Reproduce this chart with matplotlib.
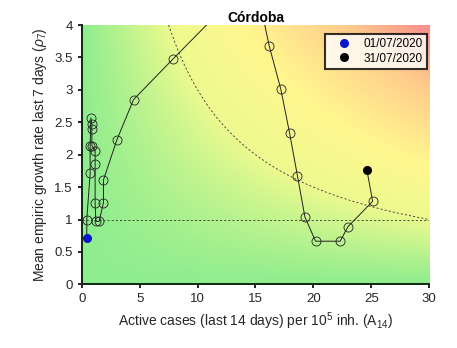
import numpy as np
import matplotlib
matplotlib.use("Agg")
import matplotlib.pyplot as plt
from matplotlib.colors import LinearSegmentedColormap

plt.rcParams['font.family'] = ['Liberation Sans', 'DejaVu Sans']
plt.rcParams['mathtext.fontset'] = 'custom'
plt.rcParams['mathtext.rm'] = 'Liberation Sans'
plt.rcParams['mathtext.it'] = 'Liberation Sans:italic'

# Data: daily trajectory for July 2020 (A14, rho7)
a14 = [0.43, 0.43, 0.72, 0.72, 0.78, 0.87, 0.87, 0.87, 1.15, 1.15, 1.15, 1.21, 1.50,
       1.87, 1.87, 3.03, 4.47, 7.84, 11.6, 13.8, 15.5, 16.2, 17.19, 17.94, 18.63,
       19.27, 20.19, 22.32, 22.99, 25.12, 24.63]
rho7 = [0.716, 1.00, 1.71, 2.14, 2.57, 2.47, 2.40, 2.14, 2.06, 1.86, 1.26, 0.97, 0.97,
        1.26, 1.61, 2.23, 2.85, 3.47, 4.15, 4.45, 4.25, 3.67, 3.01, 2.34, 1.67,
        1.04, 0.665, 0.665, 0.89, 1.28, 1.76]
first_label = "01/07/2020"
last_label = "31/07/2020"
title = "Córdoba"
epg_threshold = 30  # x*y = 30 curve
xlim = (0, 30)
ylim = (0, 4)

fig = plt.figure(figsize=(4.57, 3.48), dpi=100)
ax = fig.add_axes([0.179, 0.183, 0.760, 0.745])

# Background risk gradient based on x*y
xs = np.linspace(xlim[0], xlim[1], 400)
ys = np.linspace(ylim[0], ylim[1], 300)
X, Y = np.meshgrid(xs, ys)
V = X * Y
cmap = LinearSegmentedColormap.from_list("risk", [
    (0.0, (0.56, 0.93, 0.56)),
    (0.25, (0.93, 0.98, 0.56)),
    (0.45, (1.0, 0.97, 0.56)),
    (0.75, (1.0, 0.80, 0.55)),
    (1.0, (0.98, 0.55, 0.55)),
])
ax.imshow(V, extent=[xlim[0], xlim[1], ylim[0], ylim[1]], origin='lower',
          aspect='auto', cmap=cmap, vmin=0, vmax=120, zorder=0, interpolation='bilinear')

# Reference lines
ax.plot(list(xlim), [1, 1], linestyle=(0, (2.5, 2.5)), color='#333333', lw=0.6, zorder=1)
hx = np.linspace(epg_threshold / ylim[1], xlim[1], 200)
ax.plot(hx, epg_threshold / hx, linestyle=(0, (2.5, 2.5)), color='#333333', lw=0.6, zorder=1)

# Trajectory
ax.plot(a14, rho7, '-', color='#222222', lw=0.7, zorder=2)
ax.plot(a14[1:-1], rho7[1:-1], 'o', mfc='none', mec='#222222', mew=0.6, ms=6.5, zorder=3)
ax.plot(a14[0], rho7[0], 'o', color='#0a14c8', ms=5.5, zorder=4, label=first_label)
ax.plot(a14[-1], rho7[-1], 'o', color='black', ms=5.5, zorder=4, label=last_label)

ax.set_xlim(*xlim)
ax.set_ylim(*ylim)
ax.set_xticks(np.arange(0, 31, 5))
ax.set_yticks(np.arange(0, 4.01, 0.5))
ax.set_yticklabels(['0', '0.5', '1', '1.5', '2', '2.5', '3', '3.5', '4'])
ax.tick_params(direction='out', length=3, width=1.2, labelsize=9.5, colors='black',
               labelcolor='#262626')
for s in ['top', 'right']:
    ax.spines[s].set_visible(False)
for s in ['left', 'bottom']:
    ax.spines[s].set_linewidth(1.4)
    ax.spines[s].set_color('#0d2a0d')

ax.set_title(title, fontsize=10, fontweight='bold', pad=2)
ax.set_xlabel(r"Active cases (last 14 days) per 10$^5$ inh. (A$_{14}$)", fontsize=10, color='#262626')
ax.set_ylabel(r"Mean empiric growth rate last 7 days ($\rho_7$)", fontsize=10, color='#262626')

leg = ax.legend(loc='upper right', fontsize=8.5, frameon=True, fancybox=False,
                handlelength=2.5, handletextpad=0.4, borderpad=0.35, labelspacing=0.2,
                borderaxespad=0, bbox_to_anchor=(0.993, 0.965))
leg.get_frame().set_edgecolor('black')
leg.get_frame().set_linewidth(1.5)
leg.get_frame().set_facecolor('white')

fig.savefig("out.png", dpi=100)
